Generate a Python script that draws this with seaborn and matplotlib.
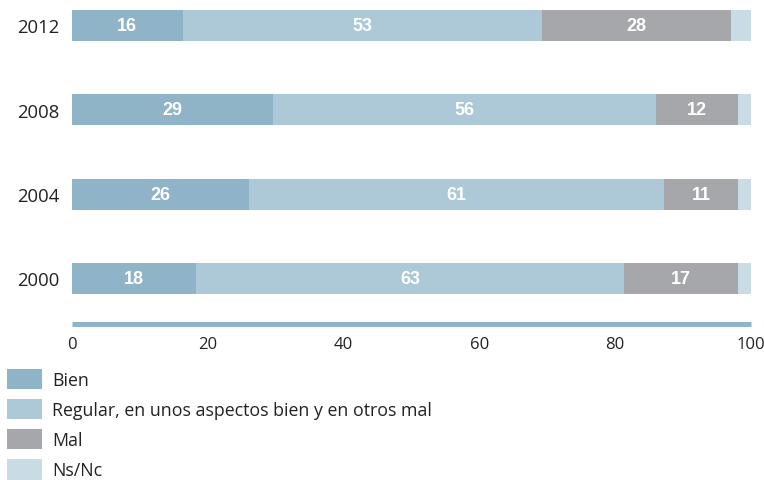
import seaborn as sns
import matplotlib.pyplot as plt
import pandas as pd
from matplotlib.patches import Patch

years = ['2012', '2008', '2004', '2000']
bien = [16.3, 29.6, 26.1, 18.3]
regular = [52.9, 56.4, 61.1, 63.0]
mal = [27.9, 12.1, 10.9, 16.8]
nsnc = [2.9, 1.9, 1.9, 1.9]
bien_lbl = [16, 29, 26, 18]
regular_lbl = [53, 56, 61, 63]
mal_lbl = [28, 12, 11, 17]

series = ['Bien', 'Regular, en unos aspectos bien y en otros mal', 'Mal', 'Ns/Nc']
colors = ['#8fb3c7', '#adc8d6', '#a6a7ab', '#c9dbe4']

sns.set_style('white')
plt.rcParams['font.family'] = ['Open Sans', 'DejaVu Sans']

df = pd.DataFrame({'year': years, 'Bien': bien, 'Regular': regular, 'Mal': mal, 'Ns': nsnc})
df['c1'] = df['Bien']
df['c2'] = df['c1'] + df['Regular']
df['c3'] = df['c2'] + df['Mal']
df['c4'] = df['c3'] + df['Ns']

fig = plt.figure(figsize=(7.64, 4.81), dpi=100)
ax = fig.add_axes([72 / 764, 1 - 325 / 481, (751 - 72) / 764, 325 / 481])

# stacked bars: draw cumulative totals from the longest down
for col, c in zip(['c4', 'c3', 'c2', 'c1'], colors[::-1]):
    sns.barplot(data=df, x=col, y='year', order=years, color=c, width=0.37,
                saturation=1, ax=ax, linewidth=0)

# value labels
for i in range(len(years)):
    segs = [(0, df['c1'][i], bien_lbl[i]),
            (df['c1'][i], df['c2'][i], regular_lbl[i]),
            (df['c2'][i], df['c3'][i], mal_lbl[i])]
    for a, b, lab in segs:
        ax.text((a + b) / 2, i, str(lab), ha='center', va='center', color='white',
                fontsize=13, fontweight='bold', family='Liberation Sans')

ax.set_xlim(0, 100)
ax.set_ylim(3.54, -0.314)
ax.set_xlabel('')
ax.set_ylabel('')
ax.set_xticks([0, 20, 40, 60, 80, 100])
for s in ['top', 'right', 'left']:
    ax.spines[s].set_visible(False)
ax.spines['bottom'].set_color('#8fb3c7')
ax.spines['bottom'].set_linewidth(3.6)
ax.spines['bottom'].set_capstyle('butt')
ax.tick_params(axis='x', direction='out', length=2.5, width=1.5, color='#333333',
               labelsize=12, labelcolor='#222222', pad=6)
ax.tick_params(axis='y', length=0, labelsize=13.3, labelcolor='#222222', pad=9)

handles = [Patch(facecolor=c, edgecolor='none') for c in colors]
fig.legend(handles, series, loc='upper left', bbox_to_anchor=(7 / 764, 1 - 370 / 481),
           frameon=False, fontsize=12.8, handlelength=1.97, handleheight=1.38,
           labelspacing=0.55, handletextpad=0.58, borderpad=0, borderaxespad=0,
           labelcolor='#222222')

fig.savefig('out.png', dpi=100)
